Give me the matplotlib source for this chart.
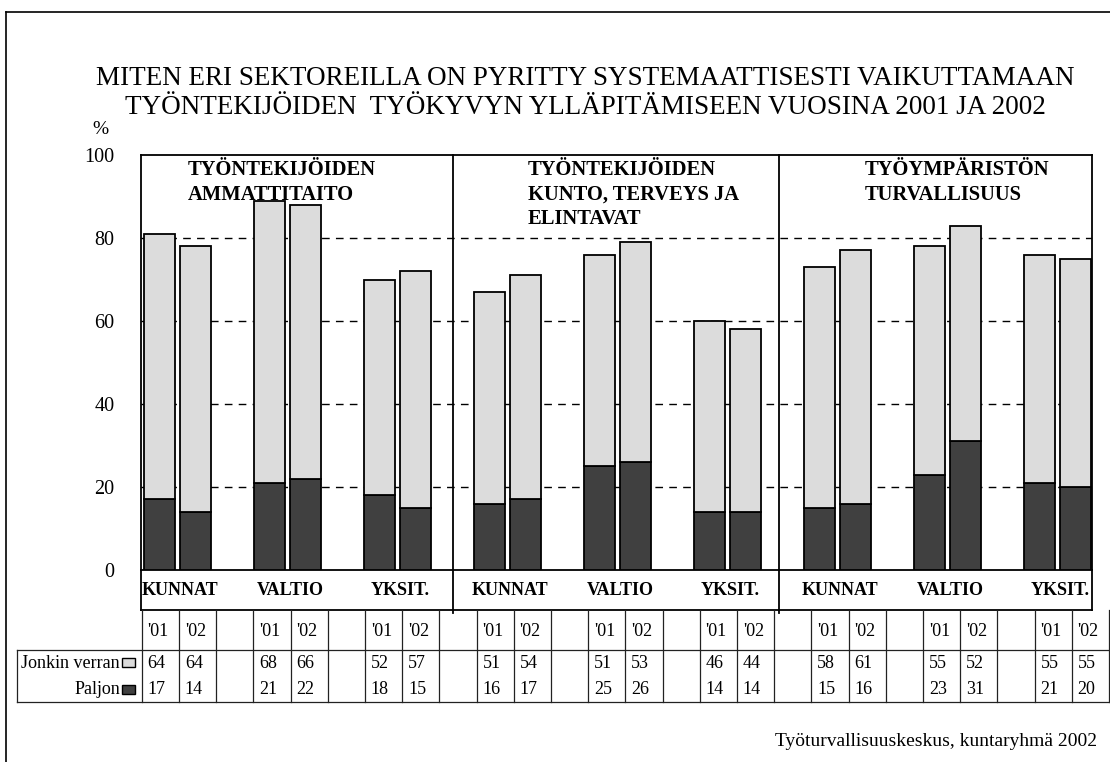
import matplotlib.pyplot as plt
import numpy as np

plt.rcParams['font.family'] = ['Liberation Serif', 'DejaVu Serif']

title = ("MITEN ERI SEKTOREILLA ON PYRITTY SYSTEMAATTISESTI VAIKUTTAMAAN\n"
         "TYÖNTEKIJÖIDEN  TYÖKYVYN YLLÄPITÄMISEEN VUOSINA 2001 JA 2002")
panels = ["TYÖNTEKIJÖIDEN\nAMMATTITAITO",
          "TYÖNTEKIJÖIDEN\nKUNTO, TERVEYS JA\nELINTAVAT",
          "TYÖYMPÄRISTÖN\nTURVALLISUUS"]
sectors = ["KUNNAT", "VALTIO", "YKSIT."] * 3
years = ["'01", "'02"]
# per sector group: ['01, '02]
jonkin = [[64, 64], [68, 66], [52, 57],
          [51, 54], [51, 53], [46, 44],
          [58, 61], [55, 52], [55, 55]]
paljon = [[17, 14], [21, 22], [18, 15],
          [16, 17], [25, 26], [14, 14],
          [15, 16], [23, 31], [21, 20]]
source = "Työturvallisuuskeskus, kuntaryhmä 2002"

light = '#dcdcdc'
dark = '#404040'

W, H = 1110, 762
fig = plt.figure(figsize=(W / 100, H / 100), dpi=100)

ax = fig.add_axes([141 / W, 1 - 570 / H, (1092 - 141) / W, (570 - 155) / H])

# overlay in pixel coords for frame, texts and table
ov = fig.add_axes([0, 0, 1, 1])
ov.set_xlim(0, W)
ov.set_ylim(H, 0)
ov.axis('off')
ov.set_zorder(5)

jon = np.array(jonkin)
pal = np.array(paljon)
x = np.arange(len(sectors))
off = 0.166
bw = 0.282
for j in range(2):
    xs = x + (2 * j - 1) * off
    ax.bar(xs, pal[:, j], bw, color=dark, edgecolor='black', linewidth=1.3, zorder=3)
    ax.bar(xs, jon[:, j], bw, bottom=pal[:, j], color=light, edgecolor='black',
           linewidth=1.3, zorder=3)

ax.set_xlim(-0.332, 8.314)
ax.set_ylim(0, 100)
ax.set_yticks(range(0, 101, 20))
ax.tick_params(axis='y', length=0, pad=19, labelsize=14.5)
ax.set_xticks(x + 0.025)
ax.set_xticklabels(sectors, fontweight='bold', fontsize=13)
ax.tick_params(axis='x', length=0, pad=8.5)
for v in [20, 40, 60, 80]:
    ax.axhline(v, color='black', lw=1, linestyle=(0, (5.5, 4.5)), zorder=1)
for s in ax.spines.values():
    s.set_linewidth(1.3)

# panel dividers and category label box
for d in [2.5, 5.47]:
    ax.axvline(d, ymin=-0.104, ymax=1, color='black', lw=1.3, clip_on=False, zorder=4)
lb = -40 / 415
ax.plot([0, 0], [0, lb], transform=ax.transAxes, color='black', lw=1.3, clip_on=False)
ax.plot([1, 1], [0, lb], transform=ax.transAxes, color='black', lw=1.3, clip_on=False)
ax.plot([0, 1], [lb, lb], transform=ax.transAxes, color='black', lw=1.3, clip_on=False)

# panel titles
for px, txt in zip([188, 528, 865], panels):
    ov.text(px, 160, txt, fontsize=14.8, fontweight='bold', va='top', ha='left',
            linespacing=1.3)

ov.text(585, 93, title, fontsize=19.5, ha='center', va='center', linespacing=1.22)
ov.text(100, 129, "%", fontsize=14, ha='center', va='center')

# frame
ov.plot([6, 6], [12, H], color='black', lw=1.2)
ov.plot([6, W], [12, 12], color='black', lw=1.2)

# data table
c0, cw = 141.7, 37.2
ncol = 26
tl = dict(color='#222222', lw=0.9)
for k in range(ncol + 1):
    ov.plot([c0 + cw * k] * 2, [610, 702], **tl)
ov.plot([17, c0 + cw * ncol], [649.5, 649.5], **tl)
ov.plot([17, c0 + cw * ncol], [702, 702], **tl)
ov.plot([17, 17], [649.5, 702], **tl)

for g in range(len(sectors)):
    for j in range(2):
        cx = c0 + cw * (3 * g + j) + 6
        ov.text(cx, 631, years[j], fontsize=13, ha='left', va='center')
        ov.text(cx, 663, str(jonkin[g][j]), fontsize=13, ha='left', va='center')
        ov.text(cx, 690, str(paljon[g][j]), fontsize=13, ha='left', va='center')

ov.text(120, 663, "Jonkin verran", fontsize=13, ha='right', va='center')
ov.text(120, 690, "Paljon", fontsize=13, ha='right', va='center')
ov.add_patch(plt.Rectangle((122, 658), 13, 9, facecolor=light, edgecolor='black', lw=1))
ov.add_patch(plt.Rectangle((122, 685), 13, 9, facecolor=dark, edgecolor='black', lw=1))

ov.text(1097, 741, source, fontsize=14, ha='right', va='center')

fig.savefig('out.png', dpi=100)
